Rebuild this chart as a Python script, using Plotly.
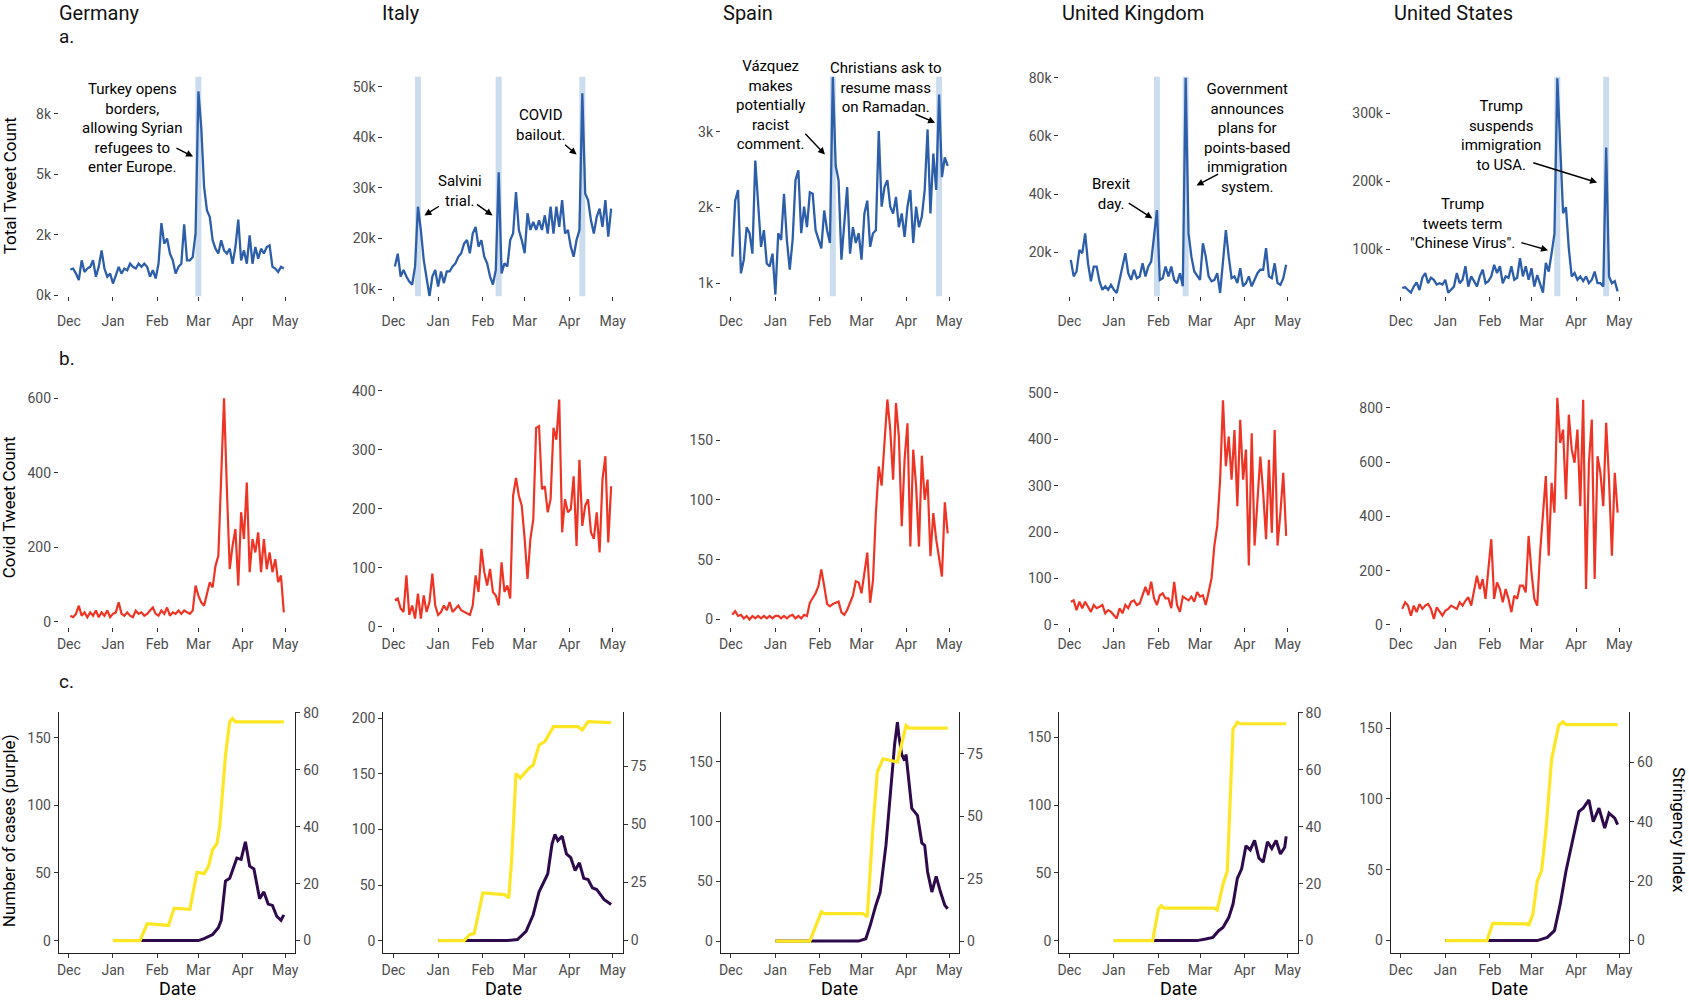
import plotly.graph_objects as go
import pandas as pd

# ---------------- DATA ----------------
countries = ["Germany", "Italy", "Spain", "United Kingdom", "United States"]
month_ticks = ["2019-12-01", "2020-01-01", "2020-02-01", "2020-03-01", "2020-04-01", "2020-05-01"]
month_labels = ["Dec", "Jan", "Feb", "Mar", "Apr", "May"]

# rows a and b: values every second day from 2019-12-02 to 2020-04-30
dates = pd.date_range("2019-12-02", periods=76, freq="2D")

germany_total = [1060, 1100, 890, 620, 1440, 960, 1100, 1170, 1440, 760, 1170, 1850, 1100, 760, 890,
                 480, 820, 1170, 890, 1100, 1030, 1300, 1170, 1100, 1300, 1170, 1300, 1170, 760, 1030, 690,
                 1300, 2980, 2130, 2340, 1720, 1440, 890, 1170, 1300, 2930, 1440, 1440, 1580, 2540,
                 8420, 6940, 4470, 3500, 3230, 2270, 1920, 1720, 2270, 1850, 1720, 1920, 1300, 1990, 3120, 1440,
                 1850, 1300, 2470, 1300, 1990, 1510, 1920, 1720, 1990, 2060, 1170, 1100, 960, 1170, 1100]
italy_total = [14500, 17000, 12500, 13800, 12500, 11500, 10900, 14500, 26300, 21700, 15800, 11800, 8600, 12500, 13800,
               10500, 13500, 11200, 13500, 13500, 14500, 15100, 16400, 17100, 19000, 19700, 17100, 21000, 22300, 18400, 19700,
               16400, 15100, 12500, 10900, 13800, 33100, 13100, 15100, 14500, 19700, 21000, 29200, 21700, 19700,
               17100, 25000, 21700, 23300, 21700, 23600, 21700, 24600, 21000, 26300, 21000, 26300, 22300, 27600, 21000, 21700,
               18400, 16400, 19700, 21700, 48700, 28900, 27600, 23600, 21000, 24300, 25900, 22300, 27600, 20400, 25900]
spain_total = [1350, 2090, 2230, 1130, 1310, 1740, 1660, 1390, 2620, 2090, 1480, 1700, 1260, 1220, 1390,
               850, 1660, 1570, 2180, 1570, 1180, 1570, 2360, 2490, 1660, 2010, 1740, 2200, 2180, 1700, 1570,
               1460, 1960, 1700, 1530, 3730, 2550, 2360, 1310, 1790, 2270, 1390, 1740, 1530, 1660,
               1310, 1920, 2090, 1480, 1660, 1700, 3010, 2010, 2270, 2360, 2010, 1920, 2140, 1740, 1920, 1610,
               2010, 2230, 1530, 2010, 1740, 1880, 2230, 3030, 1920, 2710, 2230, 3490, 2400, 2660, 2550]
uk_total = [17400, 11700, 13400, 20800, 19700, 26500, 16200, 10000, 15100, 15100, 10000, 7100, 8300, 7100, 8800,
            7100, 6000, 10500, 15100, 19700, 12800, 10500, 14000, 11100, 11700, 16200, 11700, 15100, 16800, 25400, 34500,
            10500, 11100, 15100, 11700, 15100, 10500, 9400, 12800, 8300, 80000, 26500, 18500, 13400, 11700,
            10500, 23100, 18500, 11700, 10000, 10500, 12800, 6000, 17400, 27600, 18500, 11100, 11700, 9400, 14500, 8300,
            9400, 11700, 8300, 10500, 12800, 14000, 14000, 21400, 11700, 11100, 16200, 9400, 8800, 11100, 15700]
us_total = [43000, 44000, 40000, 36000, 45000, 51000, 40000, 58000, 65000, 50000, 58000, 55000, 48000, 50000, 48000,
            55000, 36000, 40000, 45000, 65000, 50000, 55000, 75000, 45000, 60000, 53000, 45000, 60000, 70000, 50000, 53000,
            60000, 77000, 65000, 75000, 50000, 60000, 58000, 75000, 55000, 58000, 87000, 60000, 75000, 55000,
            72000, 45000, 62000, 50000, 36000, 80000, 67000, 94000, 123000, 352000, 260000, 153000, 162000, 101000, 60000, 65000,
            55000, 60000, 53000, 60000, 50000, 55000, 67000, 50000, 50000, 45000, 250000, 60000, 50000, 53000, 38000]

germany_covid = [16, 12, 21, 43, 16, 25, 12, 25, 16, 30, 12, 25, 16, 30, 12,
                 21, 25, 52, 21, 16, 25, 16, 12, 30, 21, 25, 16, 21, 30, 38, 21,
                 16, 30, 21, 38, 16, 25, 21, 30, 21, 30, 25, 21, 30, 97,
                 70, 52, 43, 79, 106, 92, 150, 177, 401, 600, 356, 141, 204, 249, 97, 294,
                 222, 374, 133, 222, 186, 240, 133, 222, 141, 186, 133, 168, 106, 124, 25]
italy_covid = [45, 48, 31, 25, 87, 20, 36, 14, 56, 14, 53, 25, 42, 90, 36,
               20, 25, 36, 28, 42, 25, 31, 36, 28, 25, 22, 20, 36, 87, 59, 132,
               93, 70, 98, 59, 53, 36, 109, 59, 70, 48, 222, 252, 222, 205,
               149, 81, 149, 182, 337, 340, 233, 238, 194, 216, 337, 317, 385, 160, 216, 194,
               199, 255, 137, 283, 171, 205, 216, 160, 149, 194, 126, 250, 289, 143, 238]
spain_covid = [4, 7, 3, 4, 1, 3, 0, 3, 1, 3, 1, 3, 1, 3, 1,
               3, 3, 1, 3, 1, 3, 4, 1, 3, 1, 4, 3, 14, 18, 22, 28,
               42, 28, 13, 11, 13, 14, 15, 6, 4, 8, 14, 20, 32, 31,
               22, 39, 56, 14, 33, 89, 128, 112, 151, 184, 159, 117, 181, 153, 78, 134,
               164, 61, 142, 112, 61, 137, 100, 117, 53, 89, 67, 53, 36, 98, 72]
uk_covid = [50, 53, 32, 50, 36, 50, 39, 28, 43, 36, 39, 43, 25, 32, 28,
            21, 14, 36, 25, 43, 36, 50, 53, 43, 46, 64, 82, 64, 93, 57, 43,
            64, 68, 57, 57, 36, 93, 43, 28, 61, 57, 53, 61, 50, 71,
            61, 64, 43, 71, 100, 171, 214, 313, 484, 342, 406, 313, 420, 256, 442, 313,
            378, 128, 413, 171, 271, 363, 285, 185, 356, 199, 420, 171, 242, 328, 192]
us_covid = [59, 83, 71, 34, 71, 47, 77, 59, 71, 77, 59, 22, 65, 47, 34,
            53, 59, 71, 65, 59, 83, 71, 89, 102, 71, 120, 181, 132, 169, 96, 194,
            316, 96, 157, 132, 83, 132, 96, 47, 108, 96, 145, 145, 120, 328,
            194, 96, 71, 267, 402, 549, 255, 524, 414, 837, 671, 720, 463, 775, 647, 598,
            720, 438, 830, 132, 598, 757, 169, 622, 561, 438, 745, 537, 255, 561, 414]

# event bands (row a)
germany_events = ["2020-03-01"]
italy_events = ["2019-12-18", "2020-02-12", "2020-04-10"]
spain_events = ["2020-02-10", "2020-04-24"]
uk_events = ["2020-01-31", "2020-02-20"]
us_events = ["2020-03-19", "2020-04-22"]

# row c: cases (purple) and stringency index (yellow)
germany_cases_dates = ["2020-01-01", "2020-03-01", "2020-03-05", "2020-03-11", "2020-03-15", "2020-03-17", "2020-03-20",
                       "2020-03-23", "2020-03-25", "2020-03-28", "2020-03-31", "2020-04-03", "2020-04-06", "2020-04-09",
                       "2020-04-13", "2020-04-16", "2020-04-19", "2020-04-22", "2020-04-25", "2020-04-28", "2020-04-30"]
germany_cases = [0, 0, 1.5, 4.5, 9.5, 15, 44, 46, 52, 61, 60, 73, 55, 53, 31, 36, 27, 26, 18, 15, 19]
germany_str_dates = ["2020-01-01", "2020-01-20", "2020-01-25", "2020-02-07", "2020-02-09", "2020-02-13", "2020-02-24",
                     "2020-02-29", "2020-03-05", "2020-03-08", "2020-03-11", "2020-03-14", "2020-03-16", "2020-03-20",
                     "2020-03-23", "2020-03-25", "2020-03-27", "2020-04-30"]
germany_str = [0, 0, 5.9, 5.6, 5.3, 11.4, 11, 24, 23.5, 26, 32, 34, 40, 65, 77, 78, 76.9, 76.9]

italy_cases_dates = ["2020-01-01", "2020-02-18", "2020-02-25", "2020-03-02", "2020-03-07", "2020-03-11", "2020-03-17",
                     "2020-03-20", "2020-03-22", "2020-03-24", "2020-03-27", "2020-03-30", "2020-04-02", "2020-04-05",
                     "2020-04-08", "2020-04-11", "2020-04-14", "2020-04-17", "2020-04-20", "2020-04-25", "2020-04-30"]
italy_cases = [0, 0, 1, 8.4, 23.5, 44, 60, 87, 95.6, 90, 94, 78, 74.6, 63, 70, 56, 55, 47.5, 46, 37, 32.5]
italy_str_dates = ["2020-01-01", "2020-01-19", "2020-01-23", "2020-01-26", "2020-02-01", "2020-02-16", "2020-02-19",
                   "2020-02-21", "2020-02-24", "2020-02-27", "2020-03-04", "2020-03-07", "2020-03-11", "2020-03-15",
                   "2020-03-21", "2020-04-07", "2020-04-10", "2020-04-14", "2020-04-30"]
italy_str = [0, 0, 2.6, 3, 20.5, 19.8, 18.4, 35, 72, 70, 74.3, 75.7, 84.3, 85.8, 92.2, 92.2, 90.8, 94.4, 93.9]

spain_cases_dates = ["2020-01-01", "2020-02-28", "2020-03-04", "2020-03-07", "2020-03-11", "2020-03-14", "2020-03-18",
                     "2020-03-21", "2020-03-24", "2020-03-26", "2020-03-27", "2020-03-29", "2020-03-31", "2020-04-01",
                     "2020-04-03", "2020-04-05", "2020-04-07", "2020-04-09", "2020-04-12", "2020-04-14", "2020-04-16",
                     "2020-04-19", "2020-04-21", "2020-04-22", "2020-04-25", "2020-04-28", "2020-04-30"]
spain_cases = [0, 0, 2, 13, 30, 41, 80, 119, 164, 183, 172, 156, 151, 156, 136, 111, 108, 105, 82, 80, 58,
               41, 50, 54, 41, 30, 27]
spain_str_dates = ["2020-01-01", "2020-01-25", "2020-02-02", "2020-02-04", "2020-03-02", "2020-03-05", "2020-03-09",
                   "2020-03-12", "2020-03-16", "2020-03-26", "2020-04-01", "2020-04-03", "2020-04-30"]
spain_str = [0, 0, 11.7, 11, 11, 9.7, 46, 67.7, 73, 71.7, 86.3, 85.3, 85.3]

uk_cases_dates = ["2020-01-01", "2020-02-28", "2020-03-05", "2020-03-10", "2020-03-14", "2020-03-17", "2020-03-21",
                  "2020-03-24", "2020-03-27", "2020-03-30", "2020-04-02", "2020-04-05", "2020-04-08", "2020-04-11",
                  "2020-04-14", "2020-04-17", "2020-04-20", "2020-04-23", "2020-04-26", "2020-04-29", "2020-04-30"]
uk_cases = [0, 0, 1.2, 2.4, 7.3, 9.7, 17, 27, 46, 53, 70, 67, 74, 61, 58, 73, 68, 74, 64, 69, 77]
uk_str_dates = ["2020-01-01", "2020-01-28", "2020-02-01", "2020-02-03", "2020-02-05", "2020-03-11", "2020-03-13",
                "2020-03-17", "2020-03-20", "2020-03-22", "2020-03-24", "2020-03-27", "2020-03-29", "2020-04-30"]
uk_str = [0, 0, 11, 12.2, 11.4, 11.4, 10.7, 19.8, 24.4, 52, 74.4, 76.7, 76.2, 76.2]

us_cases_dates = ["2020-01-01", "2020-03-05", "2020-03-12", "2020-03-17", "2020-03-21", "2020-03-25", "2020-03-30",
                  "2020-04-03", "2020-04-06", "2020-04-10", "2020-04-13", "2020-04-17", "2020-04-21", "2020-04-24",
                  "2020-04-28", "2020-04-30"]
us_cases = [0, 0, 2.3, 7, 25.7, 49, 72.4, 91, 93.5, 99.3, 84, 93.5, 79.4, 90, 86.4, 81.8]
us_str_dates = ["2020-01-01", "2020-01-30", "2020-02-03", "2020-02-27", "2020-02-28", "2020-03-02", "2020-03-05",
                "2020-03-08", "2020-03-11", "2020-03-15", "2020-03-20", "2020-03-23", "2020-03-25", "2020-04-30"]
us_str = [0, 0, 5.8, 5.6, 5, 8.9, 20, 23.4, 36.8, 61, 72.5, 73.6, 72.7, 72.7]

# axis ticks
total_ticks = [[0, 2500, 5000, 7500], [10000, 20000, 30000, 40000, 50000], [1000, 2000, 3000],
               [20000, 40000, 60000, 80000], [100000, 200000, 300000]]
total_tick_labels = [["0k", "2k", "5k", "8k"], ["10k", "20k", "30k", "40k", "50k"], ["1k", "2k", "3k"],
                     ["20k", "40k", "60k", "80k"], ["100k", "200k", "300k"]]
covid_ticks = [[0, 200, 400, 600], [0, 100, 200, 300, 400], [0, 50, 100, 150],
               [0, 100, 200, 300, 400, 500], [0, 200, 400, 600, 800]]
cases_ticks = [[0, 50, 100, 150], [0, 50, 100, 150, 200], [0, 50, 100, 150], [0, 50, 100, 150], [0, 50, 100, 150]]
str_ticks = [[0, 20, 40, 60, 80], [0, 25, 50, 75], [0, 25, 50, 75], [0, 20, 40, 60, 80], [0, 20, 40, 60]]

# ---------------- LAYOUT ----------------
W, H = 1689, 1000
KX, KY = 1.005, 1.012   # small spread correction of the layout grid around the page centre
FONT = "Roboto, 'Noto Sans', sans-serif"
BLUE, RED, PURPLE, YELLOW, BAND = "#2D5EA9", "#EE3424", "#2E0A4C", "#FDE725", "#CCDCEF"
TICKFONT = dict(family=FONT, size=14, color="#4d4d4d")


def XP(x):
    return W / 2 + (x - W / 2) * KX


def YP(y):
    return H / 2 + (y - H / 2) * KY


col_px = [(61, 297), (385, 624), (722, 960), (1060, 1298), (1391, 1629)]
row_px = [(76, 296), (388, 628), (713, 955)]
x_range = ["2019-11-24", "2020-05-08"]

range_a = [[-41, 9023], [8620, 51970], [829, 3724], [4914, 80343], [30900, 354000]]
range_b = [[-14.5, 628], [-0.5, 404.7], [-6.3, 193.7], [-4.7, 511], [-8.1, 874]]
range_c = [[-9.2, 169.1], [-11.2, 205.9], [-10, 191.7], [-9.2, 169], [-8.8, 161.5]]
range_c2 = [[-4.4, 80.4], [-5.4, 98.6], [-4.8, 91.8], [-4.4, 80.4], [-4.2, 77]]

totals = [germany_total, italy_total, spain_total, uk_total, us_total]
covids = [germany_covid, italy_covid, spain_covid, uk_covid, us_covid]
events = [germany_events, italy_events, spain_events, uk_events, us_events]
cases = [(germany_cases_dates, germany_cases), (italy_cases_dates, italy_cases), (spain_cases_dates, spain_cases),
         (uk_cases_dates, uk_cases), (us_cases_dates, us_cases)]
strs = [(germany_str_dates, germany_str), (italy_str_dates, italy_str), (spain_str_dates, spain_str),
        (uk_str_dates, uk_str), (us_str_dates, us_str)]


def ax_name(n, kind):
    return kind + ("axis" if n == 1 else "axis%d" % n)


def ref(n, kind):
    return kind if n == 1 else "%s%d" % (kind, n)


fig = go.Figure()
layout = {}
shapes = []

for r in range(3):
    for c in range(5):
        n = r * 5 + c + 1
        xd = [XP(col_px[c][0]) / W, XP(col_px[c][1]) / W]
        yd = [1 - YP(row_px[r][1]) / H, 1 - YP(row_px[r][0]) / H]
        xa = dict(domain=xd, anchor=ref(n, "y"), type="date", range=x_range,
                  tickvals=pd.to_datetime(month_ticks), ticktext=month_labels,
                  showgrid=False, zeroline=False, ticks="outside", ticklen=4, tickwidth=1,
                  tickcolor="#333333", tickfont=TICKFONT)
        ya = dict(domain=yd, anchor=ref(n, "x"), showgrid=False, zeroline=False, ticks="outside",
                  ticklen=4, tickwidth=1, tickcolor="#333333", tickfont=TICKFONT)
        if r == 0:
            xa.update(ticklabelstandoff=8)
            ya.update(range=range_a[c], tickvals=total_ticks[c], ticktext=total_tick_labels[c])
            for ev in events[c]:
                shapes.append(dict(type="line", xref=ref(n, "x"), yref=ref(n, "y") + " domain",
                                   x0=ev, x1=ev, y0=0, y1=1, layer="below",
                                   line=dict(color=BAND, width=6)))
            fig.add_trace(go.Scatter(x=dates, y=totals[c], mode="lines", line=dict(color=BLUE, width=2.3),
                                     xaxis=ref(n, "x"), yaxis=ref(n, "y"), hoverinfo="skip"))
        elif r == 1:
            ya.update(range=range_b[c], tickvals=covid_ticks[c])
            fig.add_trace(go.Scatter(x=dates, y=covids[c], mode="lines", line=dict(color=RED, width=2.2),
                                     xaxis=ref(n, "x"), yaxis=ref(n, "y"), hoverinfo="skip"))
        else:
            xa.update(showline=True, linecolor="#222222", linewidth=1.3)
            ya.update(range=range_c[c], tickvals=cases_ticks[c], showline=True, linecolor="#222222", linewidth=1.3)
            n2 = 15 + c + 1
            layout[ax_name(n2, "y")] = dict(overlaying=ref(n, "y"), side="right", anchor=ref(n, "x"),
                                            range=range_c2[c], tickvals=str_ticks[c], showgrid=False,
                                            zeroline=False, showline=True, linecolor="#222222", linewidth=1.3,
                                            ticks="outside", ticklen=4, tickwidth=1, tickcolor="#333333",
                                            tickfont=TICKFONT)
            cd, cv = cases[c]
            sd, sv = strs[c]
            fig.add_trace(go.Scatter(x=pd.to_datetime(cd), y=cv, mode="lines", line=dict(color=PURPLE, width=3),
                                     xaxis=ref(n, "x"), yaxis=ref(n, "y"), hoverinfo="skip"))
            fig.add_trace(go.Scatter(x=pd.to_datetime(sd), y=sv, mode="lines", line=dict(color=YELLOW, width=3.2),
                                     xaxis=ref(n, "x"), yaxis=ref(n2, "y"), hoverinfo="skip"))
        layout[ax_name(n, "x")] = xa
        layout[ax_name(n, "y")] = ya


def P(x, y):
    return XP(x) / W, 1 - YP(y) / H


annotations = []


def txt(s, x, y, size=15, xanchor="center", angle=0, color="black"):
    px, py = P(x, y)
    annotations.append(dict(text=s, x=px, y=py, xref="paper", yref="paper", showarrow=False,
                            xanchor=xanchor, yanchor="middle", textangle=angle, align="center",
                            font=dict(family=FONT, size=size, color=color)))


def arrow(tail, head):
    hx, hy = P(*head)
    annotations.append(dict(text="", x=hx, y=hy, xref="paper", yref="paper", showarrow=True,
                            ax=(tail[0] - head[0]) * KX, ay=(tail[1] - head[1]) * KY,
                            arrowhead=2, arrowsize=1, arrowwidth=1.4, arrowcolor="black",
                            standoff=0, startstandoff=0))


# country titles and row letters
title_x = [59, 382, 722, 1061, 1392]
for c in range(5):
    txt(countries[c], title_x[c], 12, size=20, xanchor="left", color="#111111")
txt("a.", 59, 36, size=19, xanchor="left", color="#111111")
txt("b.", 59, 359, size=19, xanchor="left", color="#111111")
txt("c.", 59, 683, size=19, xanchor="left", color="#111111")

# axis titles
txt("Total Tweet Count", 12, 185, size=17, angle=-90)
txt("Covid Tweet Count", 12, 508, size=17, angle=-90)
txt("Number of cases (purple)", 12, 832, size=17, angle=-90)
txt("Stringency Index", 1678, 832, size=17, angle=90)
for c in range(5):
    txt("Date", (col_px[c][0] + col_px[c][1]) / 2, 991, size=18)

# event labels
txt("Turkey opens<br>borders,<br>allowing Syrian<br>refugees to<br>enter Europe.", 135, 127)
arrow((177, 147), (195, 156))
txt("Salvini<br>trial.", 462, 191)
arrow((442, 205), (426, 215))
arrow((477, 203), (494, 215))
txt("COVID<br>bailout.", 542, 124)
arrow((565, 143), (578, 154))
txt("Vázquez<br>makes<br>potentially<br>racist<br>comment.", 772, 104)
arrow((805, 132), (826, 154))
txt("Christians ask to<br>resume mass<br>on Ramadan.", 887, 87)
arrow((915, 113), (936, 122))
txt("Brexit<br>day.", 1112, 194)
arrow((1128, 202), (1153, 218))
txt("Government<br>announces<br>plans for<br>points-based<br>immigration<br>system.", 1247, 137)
arrow((1220, 173), (1197, 185))
txt("Trump<br>suspends<br>immigration<br>to USA.", 1501, 135)
arrow((1532, 162), (1597, 182))
txt("Trump<br>tweets term<br>\"Chinese Virus\".", 1463, 223)
arrow((1520, 242), (1548, 250))

fig.update_layout(width=W, height=H, margin=dict(l=0, r=0, t=0, b=0), showlegend=False,
                  paper_bgcolor="white", plot_bgcolor="white", font=dict(family=FONT),
                  shapes=shapes, annotations=annotations, **layout)

fig.write_html(
    "out.html",
    config={"displayModeBar": False},
    post_script=("var d=document.getElementById('{plot_id}');"
                 "d.style.position='fixed';d.style.left='0px';d.style.top='0px';"
                 "document.body.style.margin='0';document.body.style.overflow='hidden';"),
)
